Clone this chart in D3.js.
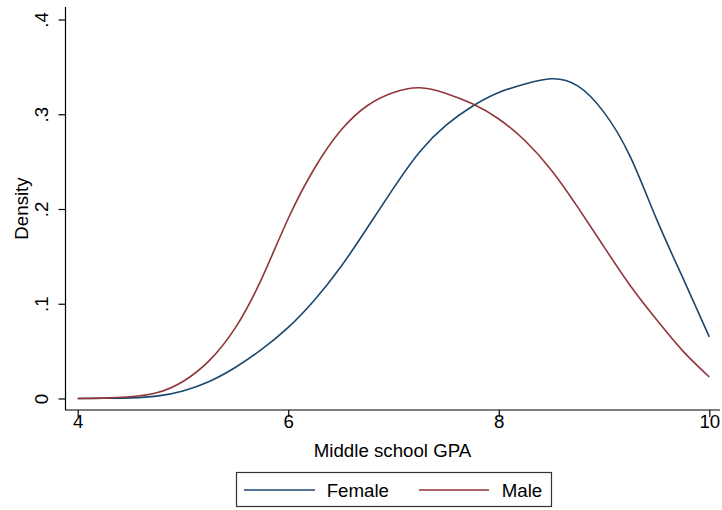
<!DOCTYPE html>
<html>
<head>
<meta charset="utf-8">
<script src="https://cdn.jsdelivr.net/npm/d3@7"></script>
<style>
  html, body { margin: 0; padding: 0; background: #fff; }
  svg { display: block; }
  text { font-family: "Liberation Sans", Arial, sans-serif; fill: #000; }
</style>
</head>
<body>
<svg id="chart" width="722" height="510"></svg>
<script>
// ---- Data ----
const gpa = [4.0, 4.25, 4.5, 4.75, 5.0, 5.25, 5.5, 5.75, 6.0, 6.25, 6.5, 6.75, 7.0, 7.25, 7.5, 7.75, 8.0, 8.25, 8.5, 8.75, 9.0, 9.25, 9.5, 9.75, 10.0];
const female = [0.0, 0.0002, 0.0007, 0.0025, 0.008, 0.018, 0.033, 0.052, 0.075, 0.104, 0.139, 0.180, 0.222, 0.2605, 0.2885, 0.3085, 0.323, 0.332, 0.3375, 0.330, 0.302, 0.255, 0.189, 0.127, 0.065];
const male   = [0.0, 0.0004, 0.0018, 0.006, 0.018, 0.040, 0.075, 0.127, 0.190, 0.243, 0.283, 0.309, 0.323, 0.328, 0.322, 0.311, 0.295, 0.272, 0.241, 0.202, 0.160, 0.119, 0.083, 0.050, 0.0227];
const xTicks = [4, 6, 8, 10];
const yTicks = [0, 0.1, 0.2, 0.3, 0.4];
const yTickLabels = ["0", ".1", ".2", ".3", ".4"];
const seriesNames = ["Female", "Male"];
const seriesColors = ["#1a476f", "#90353b"];

const svg = d3.select("#chart");
const FONT = 18.7;

const x = d3.scaleLinear().domain([4, 10]).range([77.7, 709.3]);
const y = d3.scaleLinear().domain([0, 0.4]).range([398.5, 19.5]);

// Axes lines
const axisLeftX = 65.5, axisBottomY = 410;
svg.append("line").attr("x1", axisLeftX).attr("x2", axisLeftX).attr("y1", 7).attr("y2", axisBottomY)
  .attr("stroke", "#000").attr("stroke-width", 1.2);
svg.append("line").attr("x1", 65).attr("x2", 720).attr("y1", axisBottomY).attr("y2", axisBottomY)
  .attr("stroke", "#000").attr("stroke-width", 1.2);

// Y ticks (Stata style: rotated labels)
const yAxis = d3.axisLeft(y).tickValues(yTicks).tickSize(7).tickFormat((d, i) => yTickLabels[i]);
const gy = svg.append("g").attr("transform", `translate(${axisLeftX},0)`).call(yAxis);
gy.select(".domain").remove();
gy.selectAll(".tick line").attr("stroke", "#000").attr("stroke-width", 1.2);
gy.selectAll(".tick text")
  .attr("x", null).attr("dy", null)
  .attr("text-anchor", "middle")
  .attr("transform", "translate(-17.5,0) rotate(-90)")
  .attr("y", 0)
  .style("font-size", FONT + "px")
  .style("font-family", '"Liberation Sans", Arial, sans-serif')
  .attr("fill", "#000");

// X ticks
const xAxis = d3.axisBottom(x).tickValues(xTicks).tickSize(7).tickFormat(d3.format("d"));
const gx = svg.append("g").attr("transform", `translate(0,${axisBottomY})`).call(xAxis);
gx.select(".domain").remove();
gx.selectAll(".tick line").attr("stroke", "#000").attr("stroke-width", 1.2);
gx.selectAll(".tick text")
  .attr("dy", null).attr("y", 18)
  .style("font-size", FONT + "px")
  .style("font-family", '"Liberation Sans", Arial, sans-serif')
  .attr("fill", "#000");

// Axis titles
svg.append("text").attr("x", 392.5).attr("y", 456.5).attr("text-anchor", "middle")
  .style("font-size", FONT + "px").text("Middle school GPA");
svg.append("text").attr("transform", "translate(28.3,208.5) rotate(-90)").attr("text-anchor", "middle")
  .style("font-size", FONT + "px").text("Density");

// Curves
const line = d3.line().x(d => x(d[0])).y(d => y(d[1])).curve(d3.curveNatural);
const series = [female, male];
series.forEach((vals, i) => {
  svg.append("path")
    .datum(gpa.map((g, j) => [g, vals[j]]))
    .attr("fill", "none")
    .attr("stroke", seriesColors[i])
    .attr("stroke-width", 1.6)
    .attr("d", line);
});

// Legend
const lg = svg.append("g");
lg.append("rect").attr("x", 236.5).attr("y", 472.5).attr("width", 315).attr("height", 34)
  .attr("fill", "#fff").attr("stroke", "#333").attr("stroke-width", 1.2);
const legendItems = [
  {x1: 244, x2: 315, tx: 326.7},
  {x1: 419, x2: 489, tx: 501.7}
];
legendItems.forEach((it, i) => {
  lg.append("line").attr("x1", it.x1).attr("x2", it.x2).attr("y1", 490).attr("y2", 490)
    .attr("stroke", seriesColors[i]).attr("stroke-width", 1.6);
  lg.append("text").attr("x", it.tx).attr("y", 497.3).style("font-size", FONT + "px").text(seriesNames[i]);
});
</script>
</body>
</html>
